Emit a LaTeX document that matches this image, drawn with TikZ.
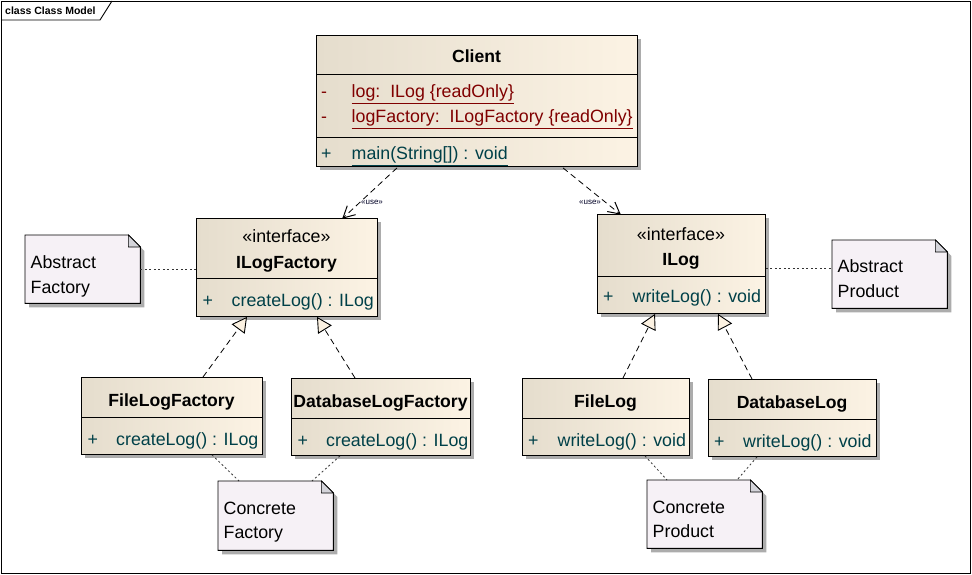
\documentclass[tikz,border=0pt]{standalone}
\usepackage{fontspec}
\setmainfont{Liberation Sans}
\usetikzlibrary{arrows.meta,shadows,calc}
\definecolor{clsL}{RGB}{229,221,205}
\definecolor{clsR}{RGB}{252,243,228}
\definecolor{notec}{RGB}{246,241,246}
\definecolor{foldc}{RGB}{212,212,218}
\definecolor{shadowc}{RGB}{172,172,172}
\definecolor{attrc}{RGB}{128,0,0}
\definecolor{methc}{RGB}{0,64,72}
\definecolor{tric}{RGB}{252,242,226}
\tikzset{
  cls/.style={draw=black, line width=0.9pt, rectangle, inner sep=0pt, anchor=north west,
    left color=clsL, right color=clsR,
    drop shadow={shadow xshift=4pt, shadow yshift=-4pt, fill=shadowc, opacity=1}},
  divider/.style={draw=black, line width=0.9pt},
  notebox/.style={rectangle, inner sep=0pt, anchor=north west},
  txt/.style={font=\fontsize{17.8}{20}\selectfont, inner sep=0pt, anchor=base west},
  ttl/.style={font=\fontsize{17.6}{20}\selectfont\bfseries, inner sep=0pt, anchor=base},
  stereo/.style={font=\fontsize{17.8}{20}\selectfont, inner sep=0pt, anchor=base},
  attr/.style={txt, text=attrc},
  meth/.style={txt, text=methc},
  usel/.style={font=\fontsize{8}{9}\selectfont, inner sep=0pt, text=black!85!blue},
  usearrow/.style={draw=black, line width=0.8pt, dash pattern=on 6pt off 4pt},
  usehead/.style={draw=black, line width=1pt, solid},
  realize/.style={draw=black, line width=0.8pt, dash pattern=on 6pt off 4pt,
    -{Triangle[length=15pt,width=16pt,fill=tric,line width=0.9pt]}},
  notelink/.style={draw=black!80, line width=0.8pt, dash pattern=on 2pt off 2.5pt},
}
\newcommand\umlnote[1]{%
  \fill[shadowc] ([shift={(4pt,-4pt)}]#1.north west) -- ([shift={(-8pt,-4pt)}]#1.north east)
    -- ([shift={(4pt,-16pt)}]#1.north east) -- ([shift={(4pt,-4pt)}]#1.south east)
    -- ([shift={(4pt,-4pt)}]#1.south west) -- cycle;
  \filldraw[fill=notec, draw=black, line width=0.9pt] (#1.north west) -- ([xshift=-12pt]#1.north east)
    -- ([yshift=-12pt]#1.north east) -- (#1.south east) -- (#1.south west) -- cycle;
  \filldraw[fill=foldc, draw=black, line width=0.6pt] ([xshift=-12pt]#1.north east)
    -- ([xshift=-12pt,yshift=-12pt]#1.north east) -- ([yshift=-12pt]#1.north east) -- cycle;
}
\begin{document}
\begin{tikzpicture}[x=1pt,y=-1pt]
\useasboundingbox (0,0) rectangle (972,575);
\fill[white] (0,0) rectangle (972,575);
% frame
\draw[line width=0.9pt] (1,1) rectangle (970,573);
\draw[line width=0.9pt] (1,20) -- (100,20) -- (112,1);
\node[font=\fontsize{10.5}{12}\selectfont\bfseries, inner sep=0pt, anchor=base west] (frameT) at (5,15) {class Class Model};

% Client
\node[cls, minimum width=321pt, minimum height=131pt] (client) at (316,35) {};
\draw[divider] (client.west |- 0,74) -- (client.east |- 0,74);
\draw[divider] (client.west |- 0,137) -- (client.east |- 0,137);
\node[ttl] (clientT) at (476.5,63) {Client};
\node[attr] (ca1v) at (321,98) {-};
\node[attr] (ca1) at (351.5,98) {\underline{log:\ \ ILog \{readOnly\}}};
\node[attr] (ca2v) at (321,123) {-};
\node[attr] (ca2) at (351.5,123) {\underline{logFactory:\ \ ILogFactory \{readOnly\}}};
\node[meth] (cm1v) at (321,160) {+};
\node[meth] (cm1) at (351.5,160) {\underline{main(String[]) : void}};

% ILogFactory
\node[cls, minimum width=181pt, minimum height=98pt] (ilogf) at (196,218) {};
\draw[divider] (ilogf.west |- 0,278) -- (ilogf.east |- 0,278);
\node[stereo] (ilogfS) at (286.5,242) {«interface»};
\node[ttl] (ilogfT) at (286.5,268) {ILogFactory};
\node[meth] (ilogfMv) at (202.5,306) {+};
\node[meth] (ilogfM) at (231.5,306) {createLog() : ILog};

% ILog
\node[cls, minimum width=168pt, minimum height=99pt] (ilog) at (597,214) {};
\draw[divider] (ilog.west |- 0,276) -- (ilog.east |- 0,276);
\node[stereo] (ilogS) at (681,240) {«interface»};
\node[ttl] (ilogT) at (681,265) {ILog};
\node[meth] (ilogMv) at (603,302) {+};
\node[meth] (ilogM) at (632.5,302) {writeLog() : void};

% FileLogFactory
\node[cls, minimum width=181pt, minimum height=77pt] (flf) at (81,377) {};
\draw[divider] (flf.west |- 0,417) -- (flf.east |- 0,417);
\node[ttl] (flfT) at (171.5,406) {FileLogFactory};
\node[meth] (flfMv) at (87.5,445) {+};
\node[meth] (flfM) at (116,445) {createLog() : ILog};

% DatabaseLogFactory
\node[cls, minimum width=179pt, minimum height=77pt] (dblf) at (291,378) {};
\draw[divider] (dblf.west |- 0,418) -- (dblf.east |- 0,418);
\node[ttl] (dblfT) at (380.5,407) {DatabaseLogFactory};
\node[meth] (dblfMv) at (297.5,446) {+};
\node[meth] (dblfM) at (326,446) {createLog() : ILog};

% FileLog
\node[cls, minimum width=167pt, minimum height=77pt] (fl) at (522,378) {};
\draw[divider] (fl.west |- 0,418) -- (fl.east |- 0,418);
\node[ttl] (flT) at (605.5,407) {FileLog};
\node[meth] (flMv) at (528,446) {+};
\node[meth] (flM) at (557.5,446) {writeLog() : void};

% DatabaseLog
\node[cls, minimum width=168pt, minimum height=77pt] (dbl) at (708,379) {};
\draw[divider] (dbl.west |- 0,419) -- (dbl.east |- 0,419);
\node[ttl] (dblT) at (792,408) {DatabaseLog};
\node[meth] (dblMv) at (714,447) {+};
\node[meth] (dblM) at (743,447) {writeLog() : void};

% Notes
\node[notebox, minimum width=115pt, minimum height=68pt] (nAF) at (25,235) {};
\umlnote{nAF}
\node[txt] (nAF1) at (30.5,268) {Abstract};
\node[txt] (nAF2) at (30.5,293) {Factory};

\node[notebox, minimum width=115pt, minimum height=68pt] (nAP) at (832,240) {};
\umlnote{nAP}
\node[txt] (nAP1) at (837.5,272) {Abstract};
\node[txt] (nAP2) at (837.5,297) {Product};

\node[notebox, minimum width=115pt, minimum height=69pt] (nCF) at (218,481) {};
\umlnote{nCF}
\node[txt] (nCF1) at (223.5,514) {Concrete};
\node[txt] (nCF2) at (223.5,538) {Factory};

\node[notebox, minimum width=115pt, minimum height=68pt] (nCP) at (647,480) {};
\umlnote{nCP}
\node[txt] (nCP1) at (652.5,513) {Concrete};
\node[txt] (nCP2) at (652.5,537) {Product};

% use dependencies
\coordinate (u1s) at ([xshift=81pt,yshift=-1pt]client.south west);
\coordinate (u1e) at ([xshift=147pt]ilogf.north west);
\coordinate (u2s) at ([xshift=247pt,yshift=-1pt]client.south west);
\coordinate (u2e) at ([xshift=23pt]ilog.north west);
\draw[usearrow] (u1s) -- (u1e);
\draw[usehead] ($(u1e)!13pt!28:(u1s)$) -- (u1e) -- ($(u1e)!13pt!-28:(u1s)$);
\draw[usearrow] (u2s) -- (u2e);
\draw[usehead] ($(u2e)!13pt!28:(u2s)$) -- (u2e) -- ($(u2e)!13pt!-28:(u2s)$);
\node[usel] (use1) at (372,202) {«use»};
\node[usel] (use2) at (590,202) {«use»};

% realizations
\draw[realize] ([xshift=122pt]flf.north west) -- ([xshift=51pt]ilogf.south west);
\draw[realize] ([xshift=64pt]dblf.north west) -- ([xshift=121pt]ilogf.south west);
\draw[realize] ([xshift=101pt]fl.north west) -- ([xshift=58pt]ilog.south west);
\draw[realize] ([xshift=44pt]dbl.north west) -- ([xshift=121pt]ilog.south west);

% note links
\draw[notelink] (nAF.east) -- (nAF.east -| ilogf.west);
\draw[notelink] ([yshift=-4.5pt]ilog.east) coordinate (ilogE) -- (ilogE -| nAP.west);
\draw[notelink] ([xshift=131pt]flf.south west) -- ([xshift=21pt]nCF.north west);
\draw[notelink] ([xshift=49pt]dblf.south west) -- ([xshift=94pt]nCF.north west);
\draw[notelink] ([xshift=123pt]fl.south west) -- ([xshift=20pt]nCP.north west);
\draw[notelink] ([xshift=49pt]dbl.south west) -- ([xshift=90pt]nCP.north west);
\end{tikzpicture}
\end{document}
